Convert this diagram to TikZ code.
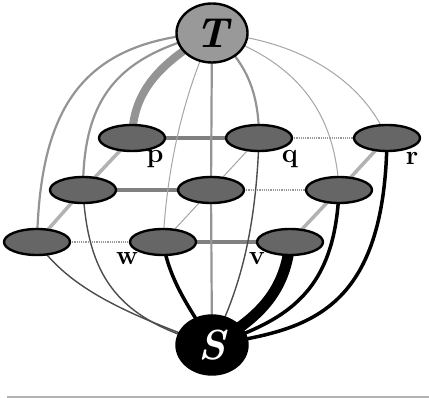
\documentclass[tikz,border=0pt]{standalone}
\usepackage{fontspec}
\usetikzlibrary{shapes.geometric,backgrounds}
\begin{document}
\begin{tikzpicture}[x=1pt,y=-1pt,
  vtx/.style={ellipse,draw=black,line width=2.4pt,fill=black!60,minimum width=66pt,minimum height=26pt,inner sep=0pt},
  term/.style={ellipse,draw=black,line width=2.4pt,minimum width=71pt,minimum height=59pt,inner sep=0pt,font=\bfseries\itshape\fontsize{42}{42}\selectfont},
  lbl/.style={font=\bfseries\fontsize{27}{27}\selectfont,inner sep=0pt},
  gthin/.style={draw=black!35,line width=1pt},
  gmed/.style={draw=black!42,line width=2.2pt},
  gthick/.style={draw=black!42,line width=8pt},
  dthin/.style={draw=black!70,line width=1.4pt},
  bthick/.style={draw=black,line width=3.5pt},
  bvthick/.style={draw=black,line width=11pt},
  grid/.style={draw=black!40,line width=1.2pt,densely dotted},
  gridt/.style={draw=black!50,line width=4pt},
  diag/.style={draw=black!30,line width=3.5pt}]
\useasboundingbox (0,0) rectangle (429,398);
\coordinate (rl) at (7,397);
\coordinate (rr) at (429,397);
\draw[black!30,line width=1.5pt] (rl) -- (rr);
% nodes
\node[term,fill=black!40,text=black] (T) at (212,33) {T};
\node[term,fill=black,text=white] (S) at (212,345) {S};
\node[vtx] (p) at (132,138) {};
\node[vtx] (q) at (259,138) {};
\node[vtx] (r) at (387,138) {};
\node[vtx] (a) at (83,190) {};
\node[vtx] (m) at (211,190) {};
\node[vtx] (b) at (339,190) {};
\node[vtx] (c) at (37,242) {};
\node[vtx] (w) at (163,242) {};
\node[vtx] (v) at (290,242) {};
% labels
\node[lbl] (lp) at (155,159) {p};
\node[lbl] (lq) at (290,159) {q};
\node[lbl] (lr) at (412,158) {r};
\node[lbl] (lw) at (127,259) {w};
\node[lbl] (lv) at (257,259) {v};
\begin{scope}[on background layer]
\fill[white] (0,0) rectangle (429,398);
% grid edges
\path[gridt] (p.center) -- (q.center);
\path[grid] (q.center) -- (r.center);
\path[gridt] (a.center) -- (m.center);
\path[grid] (m.center) -- (b.center);
\path[grid] (c.center) -- (w.center);
\path[gridt] (w.center) -- (v.center);
\path[diag] (p.center) -- (a.center);
\path[diag] (a.center) -- (c.center);
\path[gthin] (q.center) -- (m.center);
\path[gthin] (m.center) -- (w.center);
\path[diag] (r.center) -- (b.center);
\path[diag] (b.center) -- (v.center);
% edges from T
\path[gmed] (T.center) .. controls (80,40) and (40,110) .. (c.center);
\path[gmed] (T.center) .. controls (120,55) and (83,95) .. (a.center);
\path[gthick] (T.center) .. controls (155,65) and (133,95) .. (p.center);
\path[gthin] (T.center) .. controls (190,80) and (168,150) .. (w.center);
\path[gmed] (T.center) -- (m.center);
\path[gmed] (T.center) .. controls (245,60) and (259,90) .. (q.center);
\path[gthin] (T.center) .. controls (295,60) and (335,110) .. (b.center);
\path[gthin] (T.center) .. controls (305,40) and (365,85) .. (r.center);
% edges to S
\path[dthin] (c.center) .. controls (70,290) and (130,315) .. (S.center);
\path[dthin] (a.center) .. controls (88,280) and (120,320) .. (S.center);
\path[bthick] (w.center) .. controls (170,285) and (195,315) .. (S.center);
\path[gmed] (m.center) -- (S.center);
\path[dthin] (q.center) .. controls (256,230) and (240,290) .. (S.center);
\path[bvthick] (v.center) .. controls (285,295) and (255,320) .. (S.center);
\path[bthick] (b.center) .. controls (335,290) and (290,320) .. (S.center);
\path[bthick] (r.center) .. controls (385,320) and (300,330) .. (S.center);
\end{scope}
\end{tikzpicture}
\end{document}
